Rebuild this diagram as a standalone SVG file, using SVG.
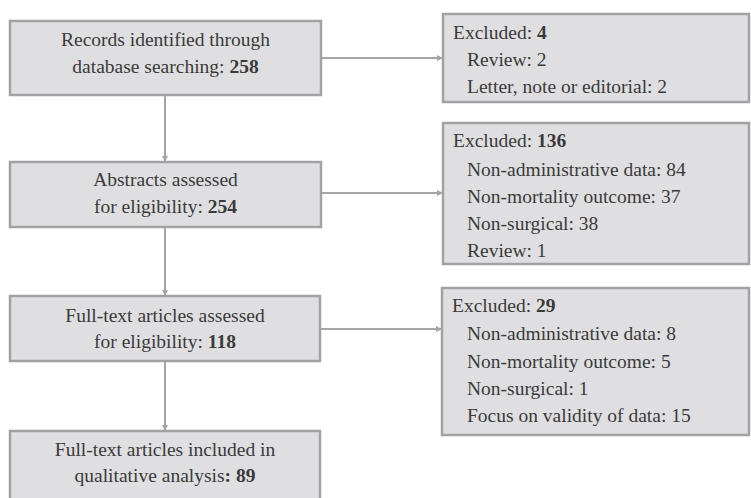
<svg xmlns="http://www.w3.org/2000/svg" width="751" height="498" viewBox="0 0 751 498">
<style>
.box{fill:#dfdfe1;stroke:#a2a2a4;stroke-width:2.5}
.t{font-family:"Liberation Serif","Times New Roman",serif;font-size:19.5px;fill:#3a3a3a}
.c{text-anchor:middle}
.b{font-weight:bold}
.edge{stroke:#a5a5a7;stroke-width:2;fill:none}
</style>
<defs>
<marker id="ah" viewBox="0 0 10 10" refX="10" refY="5" markerWidth="6" markerHeight="6" markerUnits="userSpaceOnUse" orient="auto">
<path d="M0,0 L10,5 L0,10 z" fill="#a5a5a7"/>
</marker>
</defs>
<rect width="751" height="498" fill="#ffffff"/>
<g id="connectors">
<line class="edge" x1="321" y1="58" x2="443" y2="58" marker-end="url(#ah)"/>
<line class="edge" x1="321" y1="193" x2="443" y2="193" marker-end="url(#ah)"/>
<line class="edge" x1="321" y1="329" x2="442" y2="329" marker-end="url(#ah)"/>
<line class="edge" x1="165" y1="95" x2="165" y2="162" marker-end="url(#ah)"/>
<line class="edge" x1="165" y1="227" x2="165" y2="296" marker-end="url(#ah)"/>
<line class="edge" x1="165" y1="361" x2="165" y2="431" marker-end="url(#ah)"/>
</g>
<g id="records">
<rect class="box" x="10" y="21" width="311" height="74"/>
<text class="t c" x="165.5" y="46">Records identified through</text>
<text class="t c" x="165.5" y="73">database searching: <tspan class="b">258</tspan></text>
</g>
<g id="abstracts">
<rect class="box" x="10" y="162" width="311" height="65"/>
<text class="t c" x="165.5" y="186">Abstracts assessed</text>
<text class="t c" x="165.5" y="213">for eligibility: <tspan class="b">254</tspan></text>
</g>
<g id="fulltext">
<rect class="box" x="10" y="296" width="310" height="65"/>
<text class="t c" x="165" y="322">Full-text articles assessed</text>
<text class="t c" x="165" y="348">for eligibility: <tspan class="b">118</tspan></text>
</g>
<g id="included">
<rect class="box" x="10" y="431" width="310" height="75"/>
<text class="t c" x="165" y="456">Full-text articles included in</text>
<text class="t c" x="165" y="482">qualitative analysis<tspan class="b">: 89</tspan></text>
</g>
<g id="excluded1">
<rect class="box" x="443" y="14" width="306" height="88"/>
<text class="t" x="453" y="39">Excluded: <tspan class="b">4</tspan></text>
<text class="t" x="467" y="66">Review: 2</text>
<text class="t" x="467" y="93">Letter, note or editorial: 2</text>
</g>
<g id="excluded2">
<rect class="box" x="443" y="123" width="306" height="141"/>
<text class="t" x="453" y="147">Excluded: <tspan class="b">136</tspan></text>
<text class="t" x="467" y="175.5">Non-administrative data: 84</text>
<text class="t" x="467" y="203">Non-mortality outcome: 37</text>
<text class="t" x="467" y="230">Non-surgical: 38</text>
<text class="t" x="467" y="257">Review: 1</text>
</g>
<g id="excluded3">
<rect class="box" x="442" y="288" width="307" height="147"/>
<text class="t" x="452" y="312">Excluded: <tspan class="b">29</tspan></text>
<text class="t" x="467" y="340">Non-administrative data: 8</text>
<text class="t" x="467" y="368">Non-mortality outcome: 5</text>
<text class="t" x="467" y="395">Non-surgical: 1</text>
<text class="t" x="467" y="422">Focus on validity of data: 15</text>
</g>
</svg>
